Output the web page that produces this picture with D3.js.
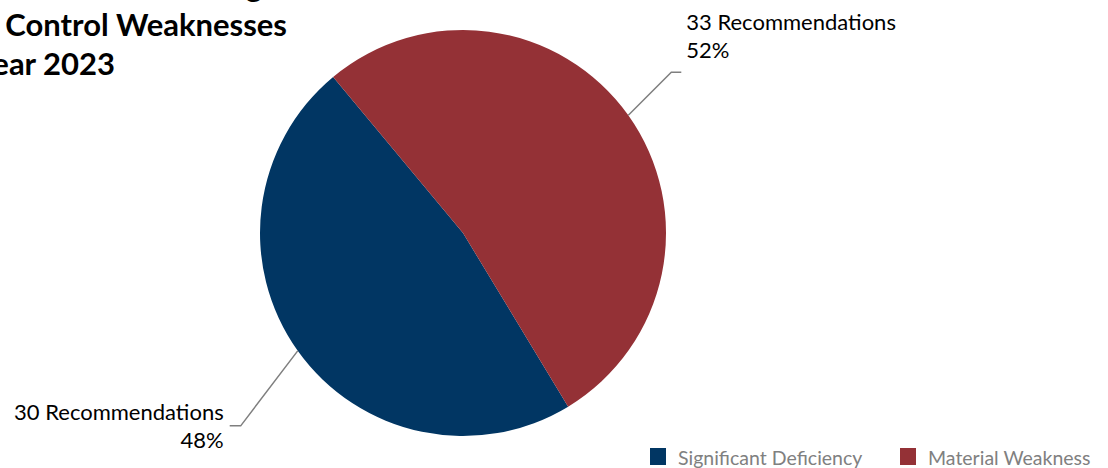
<!DOCTYPE html>
<meta charset="utf-8">
<script src="https://d3js.org/d3.v7.min.js"></script>
<style>
  body { margin: 0; background: #fff; }
  text { font-family: Lato, "Open Sans", sans-serif; }
</style>
<div id="chart"></div>
<script>
// data
var categories = ["Significant Deficiency", "Material Weakness"];
var counts = [30, 33];
var colors = ["#013663", "#943136"];
var titleLines = ["Recommendations Addressing", "Internal Control Weaknesses", "Fiscal Year 2023"];

var width = 1108, height = 468;
var cx = 463, cy = 233, radius = 203;
var firstAngle = 148.8 * Math.PI / 180; // rotation of the first slice

var svg = d3.select("#chart").append("svg")
  .attr("width", width)
  .attr("height", height);

// title (cut off at left edge in the original)
var title = svg.append("g").attr("class", "title");
title.selectAll("text")
  .data(titleLines)
  .enter()
  .append("text")
    .attr("x", function(d, i) { return [262, 287, 115][i]; })
    .attr("y", function(d, i) { return -3 + i * 39; })
    .attr("text-anchor", "end")
    .style("font-weight", "bold")
    .style("font-size", "31px")
    .style("fill", "#000")
    .text(function(d) { return d; });

// pie
var total = d3.sum(counts);
var pie = d3.pie().sort(null)
  .startAngle(firstAngle)
  .endAngle(firstAngle + 2 * Math.PI);
var arcs = pie(counts);
var arc = d3.arc().innerRadius(0).outerRadius(radius);

var g = svg.append("g").attr("transform", "translate(" + cx + "," + cy + ")");
g.selectAll("path")
  .data(arcs)
  .enter()
  .append("path")
    .attr("d", arc)
    .style("fill", function(d, i) { return colors[i]; });

// leader lines + labels
arcs.forEach(function(d, i) {
  var mid = (d.startAngle + d.endAngle) / 2;
  var p0 = [cx + radius * Math.sin(mid), cy - radius * Math.cos(mid)];
  var right = Math.sin(mid) > 0;
  var p1 = right ? [p0[0] + 43, p0[1] - 43] : [p0[0] - 57, p0[1] + 75];
  var p2 = right ? [p1[0] + 10, p1[1]] : [p1[0] - 11, p1[1]];
  svg.append("polyline")
    .attr("points", [p0, p1, p2].map(function(p) { return p.join(","); }).join(" "))
    .style("fill", "none")
    .style("stroke", "#7f7f7f")
    .style("stroke-width", 1.5);

  var pct = Math.round(counts[i] / total * 100) + "%";
  var lx = right ? p2[0] + 5 : p2[0] - 6;
  var ly = right ? 30 : 420;
  var lab = svg.append("text")
    .attr("x", lx)
    .attr("y", ly)
    .attr("text-anchor", right ? "start" : "end")
    .style("font-size", "22px")
    .style("fill", "#000");
  lab.append("tspan").attr("x", lx).text(counts[i] + " Recommendations");
  lab.append("tspan").attr("x", lx).attr("dy", 28).text(pct);
});

// legend
var legendX = [650, 900];
var legend = svg.append("g");
legend.selectAll("rect")
  .data(categories)
  .enter()
  .append("rect")
    .attr("x", function(d, i) { return legendX[i]; })
    .attr("y", 448)
    .attr("width", 16)
    .attr("height", 17)
    .style("fill", function(d, i) { return colors[i]; });
legend.selectAll("text")
  .data(categories)
  .enter()
  .append("text")
    .attr("x", function(d, i) { return legendX[i] + 28; })
    .attr("y", 465)
    .style("font-size", "19.5px")
    .style("fill", "#808080")
    .text(function(d) { return d; });
</script>
